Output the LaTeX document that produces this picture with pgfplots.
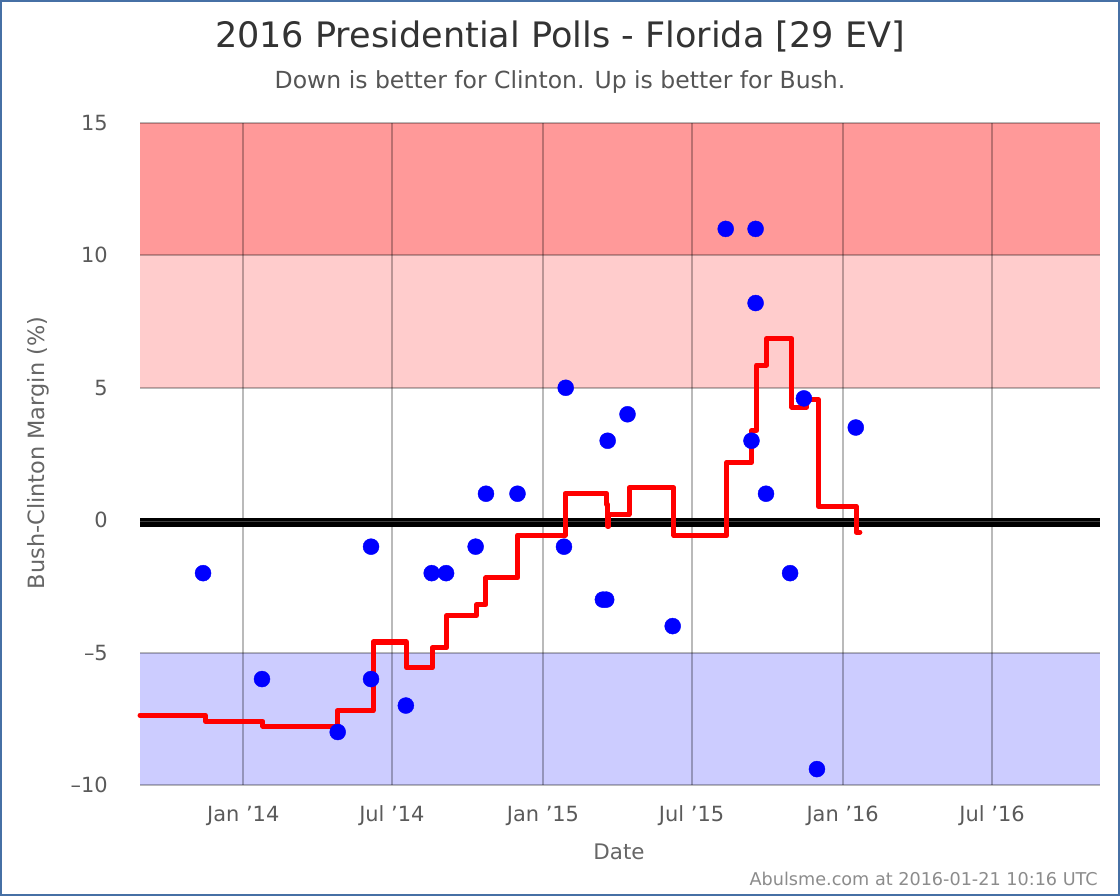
\documentclass[border=0pt]{standalone}
\usepackage{pgfplots}
\pgfplotsset{compat=1.18}
\usepackage{fontspec}
\setmainfont{DejaVu Sans}
\definecolor{bandDark}{HTML}{FF9999}
\definecolor{bandLight}{HTML}{FFCCCC}
\definecolor{bandBlue}{HTML}{CCCCFF}
\definecolor{borderBlue}{RGB}{70,112,165}
\definecolor{tickGray}{RGB}{90,90,90}
\definecolor{titleGray}{RGB}{51,51,51}
\definecolor{subGray}{RGB}{85,85,85}
\definecolor{labGray}{RGB}{102,102,102}
\definecolor{footGray}{RGB}{140,140,140}
\tikzset{gridl/.style={black, opacity=0.27, line width=2bp}}
\begin{document}
\begin{tikzpicture}[x=1bp,y=1bp]
\path[use as bounding box] (0,0) rectangle (1120,896);
\fill[white] (0,0) rectangle (1120,896);
\begin{axis}[
  at={(140bp,111bp)}, anchor=south west,
  scale only axis, width=960bp, height=662bp,
  xmin=-125.8, xmax=1043.5, ymin=-10, ymax=15,
  axis line style={draw=none},
  major tick length=0pt,
  xtick={0,181,365,546,730,912},
  xticklabels={Jan '14,Jul '14,Jan '15,Jul '15,Jan '16,Jul '16},
  ytick={-10,-5,0,5,10,15},
  yticklabels={–10,–5,0,5,10,15},
  tick label style={font=\fontsize{21}{25}\selectfont, text=tickGray, inner sep=0pt},
  xticklabel style={anchor=base, yshift=-37bp},
  yticklabel style={anchor=east, xshift=-32bp},
  clip=false,
]
\fill[bandDark] (axis cs:-125.8,10) rectangle (axis cs:1043.5,15);
\fill[bandLight] (axis cs:-125.8,5) rectangle (axis cs:1043.5,10);
\fill[bandBlue] (axis cs:-125.8,-10) rectangle (axis cs:1043.5,-5);
\draw[gridl] (axis cs:0,-10) -- (axis cs:0,15);
\draw[gridl] (axis cs:181,-10) -- (axis cs:181,15);
\draw[gridl] (axis cs:365,-10) -- (axis cs:365,15);
\draw[gridl] (axis cs:546,-10) -- (axis cs:546,15);
\draw[gridl] (axis cs:730,-10) -- (axis cs:730,15);
\draw[gridl] (axis cs:912,-10) -- (axis cs:912,15);
\draw[gridl] (axis cs:-125.8,-10) -- (axis cs:1043.5,-10);
\draw[gridl] (axis cs:-125.8,-5) -- (axis cs:1043.5,-5);
\draw[gridl] (axis cs:-125.8,5) -- (axis cs:1043.5,5);
\draw[gridl] (axis cs:-125.8,10) -- (axis cs:1043.5,10);
\draw[gridl] (axis cs:-125.8,15) -- (axis cs:1043.5,15);
% zero line
\addplot[black, line width=9bp, forget plot] coordinates {(-125.8,-0.083) (1043.5,-0.083)};
\addplot[black!75, line width=1bp, forget plot] coordinates {(-125.8,-0.064) (1043.5,-0.064)};
% running average (step)
\addplot[red, line width=5bp, const plot, line join=round, line cap=round] coordinates {
(-125.8,-7.37) (-46,-7.6) (24,-7.78) (114.5,-7.2) (158,-4.6) (199,-5.58)
(230,-4.82) (247.7,-3.6) (284,-3.19) (295.6,-2.18) (334,-0.56) (392,1.01)
(442.6,0.59) (444,-0.23) (445,0.21) (469.8,1.22) (524.6,-0.58) (588.8,2.19)
(619.2,3.39) (625.3,5.86) (637.5,6.86) (668,4.27) (686.2,4.56) (700.4,0.53)
(746.3,-0.45) (751,-0.45)};
% polls
\addplot[blue, only marks, mark=*, mark size=8bp, mark options={draw=none, fill=blue}] coordinates {
(-49,-2) (22.8,-6) (115,-8) (155.6,-1) (155.6,-6) (198,-7) (229.5,-2) (247,-2)
(283,-1) (295.6,1) (334,1) (390.6,-1) (392.7,5) (443.8,3) (438,-3) (442,-3)
(468,4) (523,-4) (587.6,11) (624,11) (624,8.2) (619,3) (636.7,1) (666,-2)
(682.8,4.6) (698.7,-9.4) (746,3.5)};
\end{axis}
\node[font=\fontsize{35.2}{40}\selectfont, text=titleGray, anchor=base, inner sep=0pt] at (560,848.7) {2016 Presidential Polls - Florida [29 EV]};
\node[font=\fontsize{23.6}{28}\selectfont, text=subGray, anchor=base, inner sep=0pt] at (560,807.7) {Down is better for Clinton. Up is better for Bush.};
\node[font=\fontsize{21.5}{26}\selectfont, text=labGray, anchor=base, inner sep=0pt] at (619,36.7) {Date};
\node[font=\fontsize{22.5}{27}\selectfont, text=labGray, rotate=90, anchor=base, inner sep=0pt] at (44,443) {Bush-Clinton Margin (\%)};
\node[font=\fontsize{17.7}{21}\selectfont, text=footGray, anchor=east, inner sep=0pt] at (1098,17) {Abulsme.com at 2016-01-21 10:16 UTC};
\draw[borderBlue, line width=2bp] (1,1) rectangle (1119,895);
\end{tikzpicture}
\end{document}
